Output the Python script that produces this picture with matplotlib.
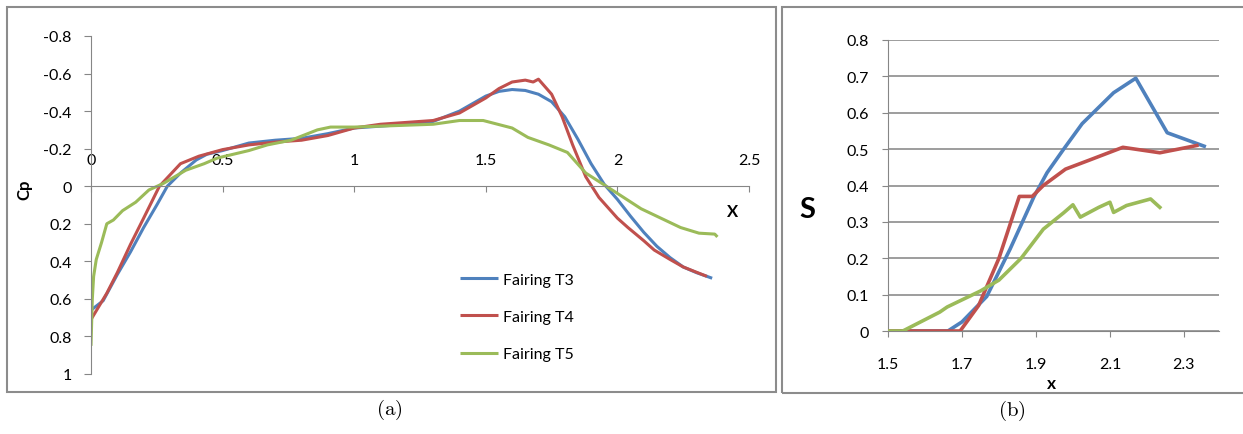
import matplotlib
matplotlib.use("Agg")
import matplotlib.pyplot as plt
from matplotlib.patches import Rectangle

plt.rcParams['font.family'] = ['Lato', 'DejaVu Sans']
plt.rcParams['mathtext.fontset'] = 'cm'

# ---- data (a): Cp along the fairing ----
t3_x = [0.0, 0.046, 0.10, 0.15, 0.20, 0.25, 0.29, 0.34, 0.40, 0.44, 0.50, 0.60, 0.70,
        0.80, 0.90, 1.00, 1.10, 1.20, 1.30, 1.40, 1.45, 1.50, 1.55, 1.60, 1.65, 1.70,
        1.75, 1.80, 1.85, 1.90, 1.95, 2.00, 2.05, 2.10, 2.15, 2.20, 2.25, 2.30, 2.36]
t3_cp = [0.66, 0.61, 0.47, 0.35, 0.22, 0.10, 0.0, -0.07, -0.14, -0.17, -0.19, -0.23, -0.245,
         -0.255, -0.28, -0.31, -0.32, -0.33, -0.345, -0.40, -0.44, -0.48, -0.505, -0.515, -0.51, -0.49,
         -0.45, -0.37, -0.25, -0.12, -0.01, 0.07, 0.16, 0.245, 0.32, 0.38, 0.43, 0.46, 0.49]

t4_x = [0.0, 0.06, 0.10, 0.15, 0.20, 0.26, 0.30, 0.34, 0.41, 0.50, 0.60, 0.70, 0.80,
        0.90, 1.00, 1.10, 1.20, 1.30, 1.40, 1.45, 1.50, 1.55, 1.60, 1.65, 1.68, 1.70,
        1.75, 1.79, 1.83, 1.88, 1.93, 2.00, 2.04, 2.10, 2.14, 2.20, 2.25, 2.34]
t4_cp = [0.71, 0.57, 0.46, 0.31, 0.17, 0.0, -0.06, -0.12, -0.16, -0.195, -0.22, -0.235, -0.245,
         -0.27, -0.31, -0.33, -0.34, -0.35, -0.39, -0.43, -0.47, -0.52, -0.555, -0.565, -0.555, -0.57,
         -0.49, -0.37, -0.22, -0.05, 0.06, 0.17, 0.22, 0.29, 0.34, 0.39, 0.43, 0.48]

t5_x = [0.0, 0.005, 0.01, 0.02, 0.04, 0.06, 0.085, 0.12, 0.17, 0.22, 0.275, 0.36, 0.43,
        0.48, 0.60, 0.67, 0.76, 0.86, 0.91, 1.00, 1.10, 1.20, 1.30, 1.40, 1.49, 1.60,
        1.66, 1.74, 1.81, 1.88, 1.98, 2.09, 2.15, 2.24, 2.31, 2.37, 2.38]
t5_cp = [0.85, 0.60, 0.48, 0.39, 0.30, 0.20, 0.18, 0.13, 0.085, 0.02, -0.015, -0.085, -0.12,
         -0.15, -0.19, -0.22, -0.245, -0.30, -0.315, -0.315, -0.32, -0.325, -0.33, -0.35, -0.35, -0.31,
         -0.26, -0.22, -0.18, -0.07, 0.02, 0.12, 0.16, 0.22, 0.25, 0.255, 0.27]

# ---- data (b): S ----
s3_x = [1.5, 1.662, 1.70, 1.767, 1.83, 1.895, 1.93, 1.975, 2.025, 2.11, 2.17, 2.255, 2.355]
s3_y = [0, 0, 0.025, 0.095, 0.225, 0.37, 0.435, 0.5, 0.57, 0.655, 0.695, 0.545, 0.508]
s4_x = [1.5, 1.695, 1.745, 1.80, 1.855, 1.89, 1.92, 1.98, 2.045, 2.135, 2.235, 2.335]
s4_y = [0, 0, 0.07, 0.2, 0.37, 0.37, 0.40, 0.445, 0.47, 0.505, 0.49, 0.51]
s5_x = [1.5, 1.54, 1.64, 1.66, 1.75, 1.80, 1.86, 1.92, 1.975, 2.0, 2.02, 2.07, 2.10,
        2.11, 2.145, 2.21, 2.235]
s5_y = [0, 0, 0.052, 0.066, 0.11, 0.14, 0.2, 0.28, 0.325, 0.347, 0.313, 0.34, 0.354,
        0.326, 0.345, 0.363, 0.34]

labels = ['Fairing T3', 'Fairing T4', 'Fairing T5']
colors = ['#4F81BD', '#C0504D', '#9BBB59']
axis_gray = '#868686'

W, H = 1243, 435
fig = plt.figure(figsize=(W / 100, H / 100), dpi=100)

# frames around the two panels
fig.patches.append(Rectangle((7 / W, 1 - 393 / H), 769 / W, 385 / H, transform=fig.transFigure,
                             fill=False, edgecolor='#8c8c8c', lw=1.5))
fig.patches.append(Rectangle((782 / W, 1 - 394 / H), 480 / W, 386 / H, transform=fig.transFigure,
                             fill=False, edgecolor='#8c8c8c', lw=1.5, clip_on=False))

# ---------------- panel (a) ----------------
ax1 = fig.add_axes([91 / W, 1 - 375 / H, 658 / W, 338 / H])
for x, y, c, lab in zip([t3_x, t4_x, t5_x], [t3_cp, t4_cp, t5_cp], colors, labels):
    ax1.plot(x, y, color=c, lw=2.2, label=lab, solid_capstyle='butt')
ax1.set_xlim(0, 2.5)
ax1.set_ylim(1, -0.8)
ax1.set_yticks([-0.8, -0.6, -0.4, -0.2, 0, 0.2, 0.4, 0.6, 0.8, 1])
ax1.set_yticklabels(['-0.8', '-0.6', '-0.4', '-0.2', '0', '0.2', '0.4', '0.6', '0.8', '1'])
ax1.set_xticks([0, 0.5, 1, 1.5, 2, 2.5])
ax1.set_xticklabels(['0', '0.5', '1', '1.5', '2', '2.5'])
ax1.spines['right'].set_visible(False)
ax1.spines['bottom'].set_visible(False)
ax1.spines['top'].set_position(('data', 0))
ax1.spines['top'].set_color(axis_gray)
ax1.spines['left'].set_color(axis_gray)
ax1.xaxis.set_ticks_position('top')
ax1.tick_params(axis='x', direction='in', length=4, color=axis_gray, pad=14, labelsize=11.5)
ax1.tick_params(axis='y', direction='out', length=5, color=axis_gray, pad=9, labelsize=11.5)
ax1.patch.set_visible(False)
ax1.set_ylabel('Cp', fontsize=12, fontweight='bold')
ax1.yaxis.set_label_coords(-0.089, 0.547)
ax1.text(0.9757, 0.482, 'X', transform=ax1.transAxes, ha='center', va='center',
         fontsize=12, fontweight='bold')
ax1.legend(loc='center left', bbox_to_anchor=(0.561, 0.169), frameon=False, fontsize=11.5,
           labelspacing=1.45, handlelength=2.4, handletextpad=0.3, borderpad=0, borderaxespad=0)

# ---------------- panel (b) ----------------
ax2 = fig.add_axes([888 / W, 1 - 332 / H, 331 / W, 291 / H])
for x, y, c in zip([s3_x, s4_x, s5_x], [s3_y, s4_y, s5_y], colors):
    ax2.plot(x, y, color=c, lw=2.6, zorder=3)
ax2.set_xlim(1.5, 2.395)
ax2.set_ylim(0, 0.8)
ax2.set_xticks([1.5, 1.7, 1.9, 2.1, 2.3])
ax2.set_xticklabels(['1.5', '1.7', '1.9', '2.1', '2.3'])
ax2.set_yticks([0, 0.1, 0.2, 0.3, 0.4, 0.5, 0.6, 0.7, 0.8])
ax2.set_yticklabels(['0', '0.1', '0.2', '0.3', '0.4', '0.5', '0.6', '0.7', '0.8'])
ax2.grid(axis='y', color='#8c8c8c', lw=1.2)
ax2.set_axisbelow(True)
for side in ['top', 'right']:
    ax2.spines[side].set_visible(False)
ax2.spines['left'].set_color(axis_gray)
ax2.spines['bottom'].set_color(axis_gray)
ax2.tick_params(axis='x', direction='out', length=4, color=axis_gray, pad=15, labelsize=11.5)
ax2.tick_params(axis='y', direction='out', length=4, color=axis_gray, pad=10, labelsize=11.5)
ax2.set_ylabel('S', fontsize=21, fontweight='bold', rotation=0)
ax2.yaxis.set_label_coords(-0.245, 0.419)
ax2.yaxis.label.set_va('center')
ax2.set_xlabel('x', fontsize=12.5, fontweight='bold')
ax2.xaxis.set_label_coords(0.495, -0.179)
ax2.xaxis.label.set_va('center')

# captions
fig.text(389 / W, 1 - 410 / H, r'$\mathrm{(a)}$', ha='center', va='center', fontsize=15)
fig.text(1012 / W, 1 - 411 / H, r'$\mathrm{(b)}$', ha='center', va='center', fontsize=15)

fig.savefig('out.png', dpi=100)
